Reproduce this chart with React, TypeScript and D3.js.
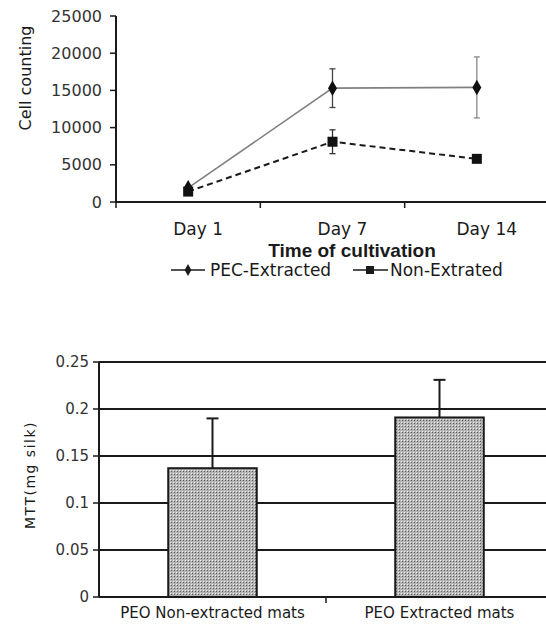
import * as d3 from "d3";

// top panel: cell counting over time
const days = ["Day 1", "Day 7", "Day 14"];
const pegMean = [1900, 15300, 15400];
const pegErr = [300, 2600, 4100];
const nonMean = [1400, 8100, 5800];
const nonErr = [200, 1600, 300];
const topTicks = [0, 5000, 10000, 15000, 20000, 25000];

// bottom panel: MTT per mg silk
const mats = ["PEO Non-extracted mats", "PEO Extracted mats"];
const mttMean = [0.137, 0.191];
const mttErr = [0.053, 0.04];
const bottomTicks = [0, 0.05, 0.1, 0.15, 0.2, 0.25];

const font = "DejaVu Sans, Arial, sans-serif";
const ink = "#1a1a1a";

const App = () => {
  const x = d3.scaleBand<string>(days, [116, 549]);
  const y = d3.scaleLinear([0, 25000], [202, 16]);
  const cx = (d: string) => (x(d) ?? 0) + x.bandwidth() / 2;

  const line = d3
    .line<number>()
    .x((_, i) => cx(days[i]))
    .y((v) => y(v));

  const xb = d3.scaleBand<string>(mats, [99, 553]);
  const yb = d3.scaleLinear([0, 0.25], [597, 362]);
  const barW = xb.bandwidth() * 0.39;
  const bcx = (d: string) => (xb(d) ?? 0) + xb.bandwidth() / 2;

  const diamond = d3.symbol(d3.symbolDiamond, 70)() ?? "";

  return (
    <svg
      width={546}
      height={624}
      style={{ position: "absolute", left: 0, top: 0, background: "#fff" }}
      fontFamily={font}
    >
      <defs>
        <pattern id="stip" width={3} height={3} patternUnits="userSpaceOnUse">
          <rect width={3} height={3} fill="#b4b4b4" />
          <rect width={1} height={1} fill="#5e5e5e" />
          <rect x={2} y={2} width={1} height={1} fill="#eeeeee" />
        </pattern>
      </defs>

      {/* ---------- top chart ---------- */}
      <line x1={116} x2={116} y1={y(25000)} y2={y(0)} stroke={ink} strokeWidth={2} />
      <line x1={116} x2={546} y1={y(0)} y2={y(0)} stroke={ink} strokeWidth={2} />
      {topTicks.map((t) => (
        <g key={t}>
          <line x1={110} x2={116} y1={y(t)} y2={y(t)} stroke={ink} strokeWidth={1.5} />
          <text x={102} y={y(t)} dy="0.35em" textAnchor="end" fontSize={16} fill="#333">
            {t}
          </text>
        </g>
      ))}
      {days.map((d) => (
        <line key={d} x1={x(d)} x2={x(d)} y1={y(0)} y2={y(0) + 6} stroke={ink} strokeWidth={1.5} />
      ))}
      {days.map((d) => (
        <text key={d} x={cx(d) + 10} y={235} textAnchor="middle" fontSize={17} fill={ink}>
          {d}
        </text>
      ))}
      <text
        x={352}
        y={257}
        textAnchor="middle"
        fontSize={19}
        fontWeight="bold"
        fontFamily="Liberation Sans, Arial, sans-serif"
        fill={ink}
      >
        Time of cultivation
      </text>
      <text
        transform={`translate(31,78) rotate(-90)`}
        textAnchor="middle"
        fontSize={16}
        fill={ink}
      >
        Cell counting
      </text>

      <path d={line(pegMean) ?? ""} fill="none" stroke="#808080" strokeWidth={1.6} />
      <path d={line(nonMean) ?? ""} fill="none" stroke={ink} strokeWidth={2} strokeDasharray="6,4" />

      {days.map((d, i) => (
        <g key={d} stroke={i === 2 ? "#888" : "#444"} strokeWidth={1.3}>
          <line x1={cx(d)} x2={cx(d)} y1={y(pegMean[i] - pegErr[i])} y2={y(pegMean[i] + pegErr[i])} />
          <line x1={cx(d) - 3} x2={cx(d) + 3} y1={y(pegMean[i] + pegErr[i])} y2={y(pegMean[i] + pegErr[i])} />
          <line x1={cx(d) - 3} x2={cx(d) + 3} y1={y(pegMean[i] - pegErr[i])} y2={y(pegMean[i] - pegErr[i])} />
        </g>
      ))}
      {days.map((d, i) => (
        <g key={d} stroke="#333" strokeWidth={1.3}>
          <line x1={cx(d)} x2={cx(d)} y1={y(nonMean[i] - nonErr[i])} y2={y(nonMean[i] + nonErr[i])} />
          <line x1={cx(d) - 3} x2={cx(d) + 3} y1={y(nonMean[i] + nonErr[i])} y2={y(nonMean[i] + nonErr[i])} />
          <line x1={cx(d) - 3} x2={cx(d) + 3} y1={y(nonMean[i] - nonErr[i])} y2={y(nonMean[i] - nonErr[i])} />
        </g>
      ))}
      {days.map((d, i) => (
        <path key={d} d={diamond} transform={`translate(${cx(d)},${y(pegMean[i])})`} fill="#111" />
      ))}
      {days.map((d, i) => (
        <rect key={d} x={cx(d) - 5} y={y(nonMean[i]) - 5} width={10} height={10} fill="#111" />
      ))}

      {/* legend */}
      <g transform="translate(0,270)">
        <line x1={171} x2={205} y1={0} y2={0} stroke={ink} strokeWidth={1.6} />
        <path d={d3.symbol(d3.symbolDiamond, 40)() ?? ""} transform="translate(188,0)" fill={ink} />
        <text x={210} y={0} dy="0.35em" fontSize={17} fill={ink}>
          PEC-Extracted
        </text>
        <line x1={353} x2={388} y1={0} y2={0} stroke={ink} strokeWidth={1.6} />
        <rect x={366} y={-4} width={8} height={8} fill={ink} />
        <text x={390} y={0} dy="0.35em" fontSize={17} fill={ink}>
          Non-Extrated
        </text>
      </g>

      {/* ---------- bottom chart ---------- */}
      {bottomTicks.map((t) => (
        <g key={t}>
          <line x1={99} x2={546} y1={yb(t)} y2={yb(t)} stroke={ink} strokeWidth={2} />
          <line x1={93} x2={99} y1={yb(t)} y2={yb(t)} stroke={ink} strokeWidth={1.5} />
          <text x={89} y={yb(t)} dy="0.35em" textAnchor="end" fontSize={15} fill="#333">
            {d3.format("~g")(t)}
          </text>
        </g>
      ))}
      <line x1={99} x2={99} y1={yb(0.25)} y2={yb(0)} stroke={ink} strokeWidth={2} />
      <line x1={bcx(mats[0]) + xb.bandwidth() / 2} x2={bcx(mats[0]) + xb.bandwidth() / 2} y1={yb(0)} y2={yb(0) + 6} stroke={ink} strokeWidth={1.5} />
      {mats.map((m, i) => (
        <g key={m}>
          <line
            x1={bcx(m)}
            x2={bcx(m)}
            y1={yb(mttMean[i])}
            y2={yb(mttMean[i] + mttErr[i])}
            stroke={ink}
            strokeWidth={2}
          />
          <line
            x1={bcx(m) - 6}
            x2={bcx(m) + 6}
            y1={yb(mttMean[i] + mttErr[i])}
            y2={yb(mttMean[i] + mttErr[i])}
            stroke={ink}
            strokeWidth={2}
          />
          <rect
            x={bcx(m) - barW / 2}
            y={yb(mttMean[i])}
            width={barW}
            height={yb(0) - yb(mttMean[i])}
            fill="url(#stip)"
            stroke={ink}
            strokeWidth={2}
          />
          <text x={bcx(m)} y={618} textAnchor="middle" fontSize={15} fill={ink}>
            {m}
          </text>
        </g>
      ))}
      <text
        transform={`translate(35,475) rotate(-90)`}
        textAnchor="middle"
        fontSize={14}
        letterSpacing={1.5}
        fill={ink}
      >
        MTT(mg silk)
      </text>
    </svg>
  );
};

export default App;
